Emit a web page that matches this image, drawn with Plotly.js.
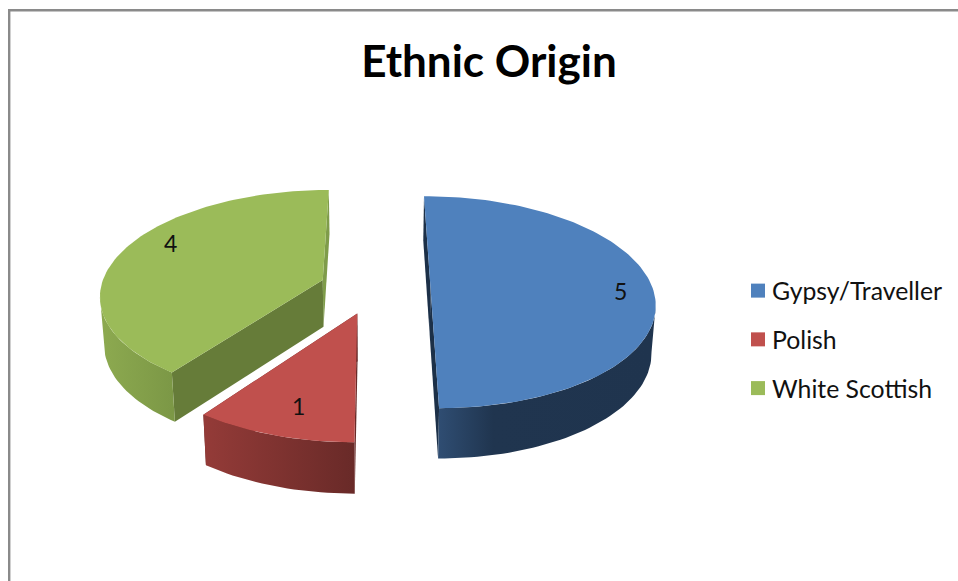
<!DOCTYPE html>
<html>
<head>
<meta charset="utf-8">
<script src="https://cdn.plot.ly/plotly-3.0.1.min.js"></script>
<style>html,body{margin:0;padding:0;background:#fff;overflow:hidden}#chart{width:958px;height:581px}</style>
</head>
<body>
<div id="chart"></div>
<script>
// ---- data ----
var categories = ["Gypsy/Traveller", "Polish", "White Scottish"];
var values = [5, 1, 4];
var chartTitle = "Ethnic Origin";

// ---- styling ----
var topColors = ["#4F81BD", "#C0504D", "#9BBB59"];
var curveGradients = [
  [[0, "#2F4D72"], [0.25, "#20354F"], [1, "#1F344E"]],
  [[0, "#943B38"], [1, "#692A28"]],
  [[0, "#8DAA50"], [1, "#7C9846"]]
];
var startFaceColors = ["#1C3048", "#692A28", "#667C39"];
var endFaceColors = ["#1C3048", "#692A28", "#7F9C4A"];
var FONT = "Lato, Carlito, Calibri, sans-serif";

// ---- projection of the tilted, exploded pie onto the page ----
var VP_X = 375, HORIZON = -494, F = 1668, G = 5873, D = 7.51, EXPLODE = 0.25;
function project(X, Z) {
  var d = D - Z;
  return [VP_X + X * F / d, HORIZON + G / d, d];
}
function drop(p) { // same point on the lower rim of the pie
  return [VP_X + (p[0] - VP_X) * 0.985, p[1] + 25 + 165 / p[2], p[2]];
}
function rad(deg) { return deg * Math.PI / 180; }

var total = values.reduce(function (a, b) { return a + b; }, 0);
var slices = [], acc = 0;
values.forEach(function (v, i) {
  var a0 = acc / total * 360, a1 = (acc + v) / total * 360;
  var mid = rad((a0 + a1) / 2);
  slices.push({ a0: a0, a1: a1, ex: EXPLODE * Math.sin(mid), ez: -EXPLODE * Math.cos(mid), i: i });
  acc += v;
});
function rim(s, deg, r) {
  var t = rad(deg), k = r === undefined ? 1 : r;
  return project(s.ex + k * Math.sin(t), s.ez - k * Math.cos(t));
}
function arc(s, a, b) {
  var pts = [], n = Math.max(2, Math.ceil(Math.abs(b - a) / 1.5));
  for (var j = 0; j <= n; j++) pts.push(rim(s, a + (b - a) * j / n));
  return pts;
}
function poly(pts, color, gradient, start, stop) {
  var tr = {
    type: "scatter", mode: "lines", fill: "toself",
    x: pts.map(function (p) { return p[0]; }),
    y: pts.map(function (p) { return p[1]; }),
    line: { width: 0, color: color || "rgba(0,0,0,0)" },
    showlegend: false, hoverinfo: "skip"
  };
  if (gradient) tr.fillgradient = { type: "horizontal", colorscale: gradient, start: start, stop: stop };
  else tr.fillcolor = color;
  return tr;
}

var traces = [];
slices.forEach(function (s) {
  var tip = rim(s, 0, 0), a = rim(s, s.a0), b = rim(s, s.a1);
  // cut faces
  traces.push(poly([tip, b, drop(b), drop(tip)], endFaceColors[s.i]));
  traces.push(poly([tip, a, drop(a), drop(tip)], startFaceColors[s.i]));
  // curved outer wall: runs between the rim's rightmost and leftmost points on the near side
  var front = arc(s, Math.max(s.a0, 60), Math.min(s.a1, 300));
  var xs = front.map(function (p) { return p[0]; });
  var maxX = Math.max.apply(null, xs), minX = Math.min.apply(null, xs);
  var upper = front.slice(xs.indexOf(maxX), xs.indexOf(minX) + 1);
  var lower = upper.map(drop).reverse();
  traces.push(poly(upper.concat(lower), null, curveGradients[s.i], minX, maxX));
});
slices.forEach(function (s) {
  var tip = rim(s, 0, 0);
  traces.push(poly([tip].concat(arc(s, s.a0, s.a1)), topColors[s.i]));
});

// value labels
var labelPolar = [[94, 0.85], [196, 0.80], [295, 0.81]];
var labelPts = slices.map(function (s) { return rim(s, labelPolar[s.i][0], labelPolar[s.i][1]); });
traces.push({
  type: "scatter", mode: "text",
  x: labelPts.map(function (p) { return p[0]; }),
  y: labelPts.map(function (p) { return p[1]; }),
  text: values.map(String), textposition: "middle center",
  textfont: { family: FONT, size: 23, color: "#111" },
  showlegend: false, hoverinfo: "skip"
});

// legend entries
categories.forEach(function (c, i) {
  traces.push({
    type: "scatter", mode: "markers", x: [null], y: [null], name: c, legendgroup: c,
    marker: { symbol: "square", size: 14, color: topColors[i] }, hoverinfo: "skip"
  });
});

var layout = {
  width: 958, height: 581,
  margin: { l: 0, r: 0, t: 0, b: 0 },
  paper_bgcolor: "#fff", plot_bgcolor: "#fff",
  title: {
    text: "<b>" + chartTitle + "</b>",
    x: 489 / 958, xanchor: "center", y: 1 - 62 / 581, yanchor: "middle",
    font: { family: FONT, size: 44, color: "#000" }
  },
  xaxis: { range: [0, 958], visible: false, fixedrange: true },
  yaxis: { range: [581, 0], visible: false, fixedrange: true },
  legend: {
    x: 738 / 958, xanchor: "left", y: 1 - 268 / 581, yanchor: "top",
    bgcolor: "rgba(0,0,0,0)", tracegroupgap: 13.5,
    font: { family: FONT, size: 24.8, color: "#111" }
  },
  shapes: [{
    type: "path", xref: "x", yref: "y",
    path: "M 9.2 581 L 9.2 10.3 L 958 10.3",
    line: { color: "#8A8A8A", width: 2.4 }
  }],
  showlegend: true
};

Plotly.newPlot("chart", traces, layout, { displayModeBar: false, staticPlot: true }).then(function () {
  // the swatch sits closer to its label than Plotly's default gap
  document.querySelectorAll(".legendtext").forEach(function (t) { t.setAttribute("x", 34); });
});
</script>
</body>
</html>
